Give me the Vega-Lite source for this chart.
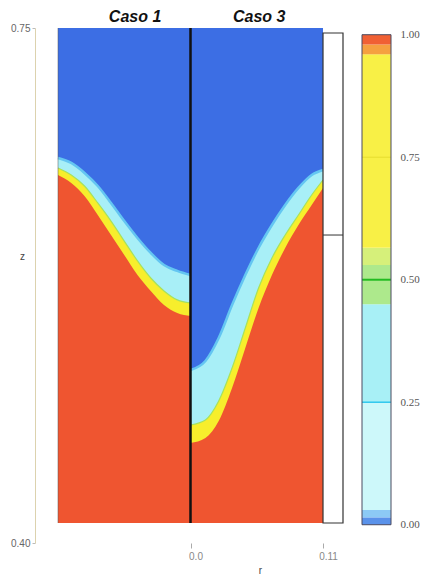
{
  "$schema": "https://vega.github.io/schema/vega-lite/v6.json",
  "background": "white",
  "padding": {"left": 10, "top": 8, "right": 0, "bottom": 0},
  "config": {"view": {"stroke": null}},
  "bounds": "flush",
  "spacing": 19,
  "datasets": {
    "curves": [
      {"caso": "Caso 1", "r": -0.11, "c": 0.6617, "y": 0.6549, "red": 0.6501},
      {"caso": "Caso 1", "r": -0.099, "c": 0.6583, "y": 0.6501, "red": 0.6447},
      {"caso": "Caso 1", "r": -0.088, "c": 0.6515, "y": 0.6426, "red": 0.6358},
      {"caso": "Caso 1", "r": -0.077, "c": 0.6426, "y": 0.6311, "red": 0.6229},
      {"caso": "Caso 1", "r": -0.066, "c": 0.6311, "y": 0.6188, "red": 0.6093},
      {"caso": "Caso 1", "r": -0.055, "c": 0.6188, "y": 0.6052, "red": 0.5957},
      {"caso": "Caso 1", "r": -0.044, "c": 0.6073, "y": 0.5917, "red": 0.5821},
      {"caso": "Caso 1", "r": -0.033, "c": 0.5971, "y": 0.5801, "red": 0.5713},
      {"caso": "Caso 1", "r": -0.022, "c": 0.5889, "y": 0.5713, "red": 0.5617},
      {"caso": "Caso 1", "r": -0.011, "c": 0.5849, "y": 0.5652, "red": 0.5563},
      {"caso": "Caso 1", "r": 0, "c": 0.5821, "y": 0.5631, "red": 0.5543},
      {"caso": "Caso 3", "r": 0, "c": 0.5176, "y": 0.4802, "red": 0.468},
      {"caso": "Caso 3", "r": 0.0124, "c": 0.5237, "y": 0.4836, "red": 0.4714},
      {"caso": "Caso 3", "r": 0.0234, "c": 0.5393, "y": 0.4965, "red": 0.4829},
      {"caso": "Caso 3", "r": 0.0345, "c": 0.5617, "y": 0.5189, "red": 0.5053},
      {"caso": "Caso 3", "r": 0.0455, "c": 0.5821, "y": 0.5461, "red": 0.5325},
      {"caso": "Caso 3", "r": 0.0565, "c": 0.6005, "y": 0.5733, "red": 0.5597},
      {"caso": "Caso 3", "r": 0.0676, "c": 0.6161, "y": 0.5937, "red": 0.5821},
      {"caso": "Caso 3", "r": 0.0786, "c": 0.6297, "y": 0.6093, "red": 0.6005},
      {"caso": "Caso 3", "r": 0.0896, "c": 0.6413, "y": 0.6229, "red": 0.6161},
      {"caso": "Caso 3", "r": 0.1006, "c": 0.6501, "y": 0.6365, "red": 0.6297},
      {"caso": "Caso 3", "r": 0.11, "c": 0.6535, "y": 0.6467, "red": 0.6413}
    ],
    "bands": [
      {"lo": 0, "hi": 0.015},
      {"lo": 0.015, "hi": 0.03},
      {"lo": 0.03, "hi": 0.25},
      {"lo": 0.25, "hi": 0.45},
      {"lo": 0.45, "hi": 0.53},
      {"lo": 0.53, "hi": 0.565},
      {"lo": 0.565, "hi": 0.96},
      {"lo": 0.96, "hi": 0.98},
      {"lo": 0.98, "hi": 1.0}
    ]
  },
  "hconcat": [
    {
      "width": 285,
      "height": 515,
      "encoding": {
        "x": {"type": "quantitative", "scale": {"domain": [-0.11, 0.1266], "nice": false, "zero": false},
          "axis": {"values": [0, 0.11], "labelExpr": "datum.value == 0 ? '0.0' : '0.11'", "domain": false, "grid": false, "ticks": true, "tickSize": 5, "tickColor": "#aaaaaa", "labelFontSize": 10, "labelColor": "#888888", "labelFont": "Liberation Sans", "labelPadding": 3, "labelOffset": 5, "labelFlush": false, "title": "r", "titleX": 202, "titleY": 27, "titleBaseline": "middle", "titleFontSize": 10, "titleFontWeight": "normal", "titleColor": "#444444", "titleFont": "Liberation Sans"}},
        "y": {"type": "quantitative", "stack": null, "scale": {"domain": [0.4, 0.75], "nice": false, "zero": false},
          "axis": {"values": [0.4, 0.75], "format": ".2f", "offset": 23, "grid": false, "domainColor": "#dcd2ae", "tickColor": "#bbbbbb", "tickSize": 3, "labelFontSize": 10, "labelColor": "#666666", "labelFont": "Liberation Sans", "labelPadding": 2, "labelFlush": false, "title": "z", "titleAngle": 0, "titleX": -13, "titleY": 228, "titleBaseline": "middle", "titleAlign": "center", "titleFontSize": 10, "titleFontWeight": "normal", "titleColor": "#444444", "titleFont": "Liberation Sans"}}
      },
      "layer": [
        {
          "data": {"values": [{}]},
          "mark": {"type": "rect", "color": "#3c6ee4"},
          "encoding": {
            "x": {"datum": -0.11},
            "x2": {"datum": 0.11},
            "y": {"datum": 0.4136},
            "y2": {"datum": 0.75}
          }
        },
        {
          "data": {"name": "curves"},
          "mark": {"type": "area", "color": "#a8eff7", "interpolate": "monotone"},
          "encoding": {
            "x": {"field": "r"},
            "y": {"field": "c"},
            "y2": {"datum": 0.4136},
            "detail": {"field": "caso"}
          }
        },
        {
          "data": {"name": "curves"},
          "mark": {"type": "line", "color": "#64c6f2", "strokeWidth": 2.5, "interpolate": "monotone"},
          "encoding": {
            "x": {"field": "r"},
            "y": {"field": "c"},
            "detail": {"field": "caso"}
          }
        },
        {
          "data": {"name": "curves"},
          "mark": {"type": "area", "color": "#f7ee2c", "interpolate": "monotone"},
          "encoding": {
            "x": {"field": "r"},
            "y": {"field": "y"},
            "y2": {"datum": 0.4136},
            "detail": {"field": "caso"}
          }
        },
        {
          "data": {"name": "curves"},
          "mark": {"type": "line", "color": "#a6e25e", "strokeWidth": 1.2, "interpolate": "monotone"},
          "encoding": {
            "x": {"field": "r"},
            "y": {"field": "y"},
            "detail": {"field": "caso"}
          }
        },
        {
          "data": {"name": "curves"},
          "mark": {"type": "area", "color": "#ef5530", "interpolate": "monotone"},
          "encoding": {
            "x": {"field": "r"},
            "y": {"field": "red"},
            "y2": {"datum": 0.4136},
            "detail": {"field": "caso"}
          }
        },
        {
          "data": {"values": [{}]},
          "mark": {"type": "rule", "color": "#111111", "strokeWidth": 2.5},
          "encoding": {
            "x": {"datum": 0},
            "y": {"datum": 0.4136},
            "y2": {"datum": 0.75}
          }
        },
        {
          "data": {"values": [{}]},
          "mark": {"type": "rule", "color": "#555555", "strokeWidth": 1, "opacity": 0.5},
          "encoding": {
            "x": {"datum": -0.11},
            "y": {"datum": 0.4136},
            "y2": {"datum": 0.75}
          }
        },
        {
          "data": {"values": [{}]},
          "mark": {"type": "rect", "fill": "white", "stroke": "#333333", "strokeWidth": 1.2},
          "encoding": {
            "x": {"datum": 0.11},
            "x2": {"datum": 0.1266},
            "y": {"datum": 0.4136},
            "y2": {"datum": 0.7466}
          }
        },
        {
          "data": {"values": [{}]},
          "mark": {"type": "rule", "color": "#333333", "strokeWidth": 1},
          "encoding": {
            "x": {"datum": 0.11},
            "x2": {"datum": 0.1266},
            "y": {"datum": 0.6093}
          }
        },
        {
          "data": {"values": [{}]},
          "mark": {"type": "text", "text": "Caso 1", "font": "Liberation Sans", "fontSize": 16, "fontWeight": "bold", "fontStyle": "italic", "color": "#111111", "baseline": "middle", "align": "center"},
          "encoding": {
            "x": {"datum": -0.046},
            "y": {"datum": 0.7575}
          }
        },
        {
          "data": {"values": [{}]},
          "mark": {"type": "text", "text": "Caso 3", "font": "Liberation Sans", "fontSize": 16, "fontWeight": "bold", "fontStyle": "italic", "color": "#111111", "baseline": "middle", "align": "center"},
          "encoding": {
            "x": {"datum": 0.057},
            "y": {"datum": 0.7575}
          }
        }
      ]
    },
    {
      "width": 29,
      "height": 515,
      "encoding": {
        "y": {"type": "quantitative", "scale": {"domain": [-0.0373, 1.0137], "nice": false, "zero": false},
          "axis": {"orient": "right", "values": [0, 0.25, 0.5, 0.75, 1], "format": ".2f", "ticks": false, "domain": false, "grid": false, "labelPadding": 9, "labelFont": "Liberation Serif", "labelFontSize": 11, "labelColor": "#555555", "title": null}}
      },
      "layer": [
        {
          "data": {"name": "bands"},
          "mark": {"type": "rect"},
          "encoding": {
            "y": {"field": "lo"},
            "y2": {"field": "hi"},
            "color": {"field": "lo", "type": "quantitative", "legend": null,
              "scale": {"type": "threshold", "domain": [0.015, 0.03, 0.25, 0.45, 0.53, 0.565, 0.96, 0.98], "range": ["#5a92ea", "#8ccaf5", "#cdf8fa", "#a8f0f6", "#ade98c", "#d6f07a", "#f8f046", "#f5a040", "#f06034"]}}
          }
        },
        {
          "data": {"values": [{}]},
          "mark": {"type": "rule", "color": "#30c8ee", "strokeWidth": 1.5},
          "encoding": {"y": {"datum": 0.25}}
        },
        {
          "data": {"values": [{}]},
          "mark": {"type": "rule", "color": "#22bb22", "strokeWidth": 2},
          "encoding": {"y": {"datum": 0.5}}
        },
        {
          "data": {"values": [{}]},
          "mark": {"type": "rule", "color": "#e6de30", "strokeWidth": 1},
          "encoding": {"y": {"datum": 0.75}}
        },
        {
          "data": {"values": [{}]},
          "mark": {"type": "rect", "fillOpacity": 0, "stroke": "#4a4a60", "strokeWidth": 1},
          "encoding": {
            "y": {"datum": 0},
            "y2": {"datum": 1}
          }
        }
      ]
    }
  ]
}
